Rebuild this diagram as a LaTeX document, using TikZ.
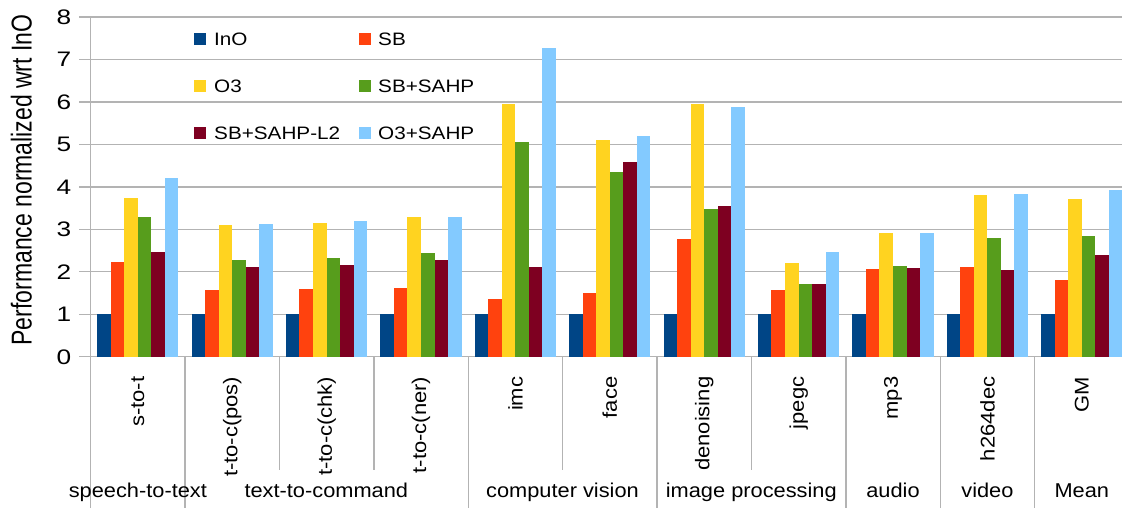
\documentclass[tikz,border=0pt]{standalone}
\usepackage{graphicx}
\usepackage{fontspec}
\setmainfont{Liberation Sans}
\definecolor{cA}{HTML}{004586}
\definecolor{cB}{HTML}{FF420E}
\definecolor{cC}{HTML}{FFD320}
\definecolor{cD}{HTML}{579D1C}
\definecolor{cE}{HTML}{7E0021}
\definecolor{cF}{HTML}{83CAFF}
\definecolor{gridc}{HTML}{B3B3B3}
\tikzset{
  gridline/.style={draw=gridc,line width=1.3pt},
  sepline/.style={draw=gridc,line width=1.3pt},
  ticklab/.style={inner sep=0pt,anchor=base east,font=\fontsize{21}{21}\selectfont},
  legtxt/.style={inner sep=0pt,anchor=base west,font=\fontsize{18}{18}\selectfont},
  legbox/.style={inner sep=0pt,minimum size=12pt,draw=none},
  benchlab/.style={inner sep=0pt,anchor=east,rotate=90,font=\fontsize{22}{22}\selectfont},
  catlab/.style={inner sep=0pt,anchor=base,font=\fontsize{20}{20}\selectfont},
  titlelab/.style={inner sep=0pt,anchor=base,rotate=90,font=\fontsize{23}{23}\selectfont},
}
\newcommand\hst[1]{\scalebox{1.15}[1]{#1}}
\newcommand\vst[1]{\scalebox{1}[0.9]{#1}}
\begin{document}
\begin{tikzpicture}[x=1pt,y=1pt]
\useasboundingbox (0,0) rectangle (1122,508);
\fill[white] (0,0) rectangle (1122,508);
\begin{scope}
\clip (0,0) rectangle (1122,508);
% grid
\foreach \k in {0,...,8} {
  \coordinate (gl\k) at (79.3,151.3+42.46*\k);
  \coordinate (gr\k) at (1122,151.3+42.46*\k);
  \draw[gridline] (gl\k) -- (gr\k);
}
% bars
\foreach \v [count=\i from 0] in {
  {1,2.23,3.74,3.29,2.47,4.20},
  {1,1.57,3.10,2.28,2.11,3.13},
  {1,1.60,3.15,2.33,2.17,3.20},
  {1,1.62,3.28,2.45,2.28,3.30},
  {1,1.36,5.95,5.06,2.12,7.27},
  {1,1.50,5.10,4.35,4.59,5.20},
  {1,2.77,5.95,3.48,3.55,5.88},
  {1,1.57,2.20,1.71,1.71,2.47},
  {1,2.07,2.92,2.13,2.09,2.92},
  {1,2.12,3.80,2.80,2.05,3.82},
  {1,1.81,3.71,2.84,2.39,3.92}} {
  \foreach \h [count=\j from 0] in \v {
    \pgfmathsetmacro\xl{90.7+94.4*\i+6.4+13.55*\j}
    \ifcase\j \def\cc{cA}\or \def\cc{cB}\or \def\cc{cC}\or \def\cc{cD}\or \def\cc{cE}\or \def\cc{cF}\fi
    \fill[\cc] (\xl,151.3) rectangle (\xl+13.6,151.3+42.46*\h);
  }
}
% axis line
\coordinate (axt) at (90.7,491);
\coordinate (axb) at (90.7,0);
\draw[sepline] (axt) -- (axb);
% separators
\foreach \i in {1,4,6,8,9,10} {
  \coordinate (st\i) at (90.7+94.4*\i,151.3);
  \coordinate (sb\i) at (90.7+94.4*\i,0);
  \draw[sepline] (st\i) -- (sb\i);
}
\foreach \i in {2,3,5,7} {
  \coordinate (st\i) at (90.7+94.4*\i,151.3);
  \coordinate (sb\i) at (90.7+94.4*\i,38);
  \draw[sepline] (st\i) -- (sb\i);
}
\end{scope}
% tick labels
\foreach \k in {0,...,8}
  \node[ticklab] (t\k) at (71.5,151.3+42.46*\k-7.5) {\scalebox{1.25}[1]{\k}};
% title
\node[titlelab] (title) at (31.7,328) {\scalebox{1}[1.25]{Performance normalized wrt InO}};
% legend
\node[legbox,fill=cA] (lb1) at (200,469.3) {};
\node[legtxt] (lt1) at (214,469.3-6.4) {\hst{InO}};
\node[legbox,fill=cB] (lb2) at (364.5,469.3) {};
\node[legtxt] (lt2) at (378,469.3-6.4) {\hst{SB}};
\node[legbox,fill=cC] (lb3) at (200,421.7) {};
\node[legtxt] (lt3) at (214,421.7-6.4) {\hst{O3}};
\node[legbox,fill=cD] (lb4) at (364.5,421.7) {};
\node[legtxt] (lt4) at (378,421.7-6.4) {\hst{SB+SAHP}};
\node[legbox,fill=cE] (lb5) at (200,375) {};
\node[legtxt] (lt5) at (214,375-6.4) {\hst{SB+SAHP-L2}};
\node[legbox,fill=cF] (lb6) at (364.5,375) {};
\node[legtxt] (lt6) at (378,375-6.4) {\hst{O3+SAHP}};
% benchmark labels
\foreach \n [count=\i from 0] in {s-to-t,t-to-c(pos),t-to-c(chk),t-to-c(ner),imc,face,denoising,jpegc,mp3,h264dec,GM}
  \node[benchlab] (b\i) at (90.7+94.4*\i+47.2,131.5) {\vst{\n}};
% category labels
\node[catlab] (c1) at (137.9,10.3) {\scalebox{1.09}[1]{speech-to-text}};
\node[catlab] (c2) at (326.3,10.3) {\scalebox{1.09}[1]{text-to-command}};
\node[catlab] (c3) at (562.5,10.3) {\scalebox{1.09}[1]{computer vision}};
\node[catlab] (c4) at (751.3,10.3) {\scalebox{1.09}[1]{image processing}};
\node[catlab] (c5) at (893,10.3) {\scalebox{1.09}[1]{audio}};
\node[catlab] (c6) at (987.4,10.3) {\scalebox{1.09}[1]{video}};
\node[catlab] (c7) at (1081.8,10.3) {\scalebox{1.09}[1]{Mean}};
\end{tikzpicture}
\end{document}
